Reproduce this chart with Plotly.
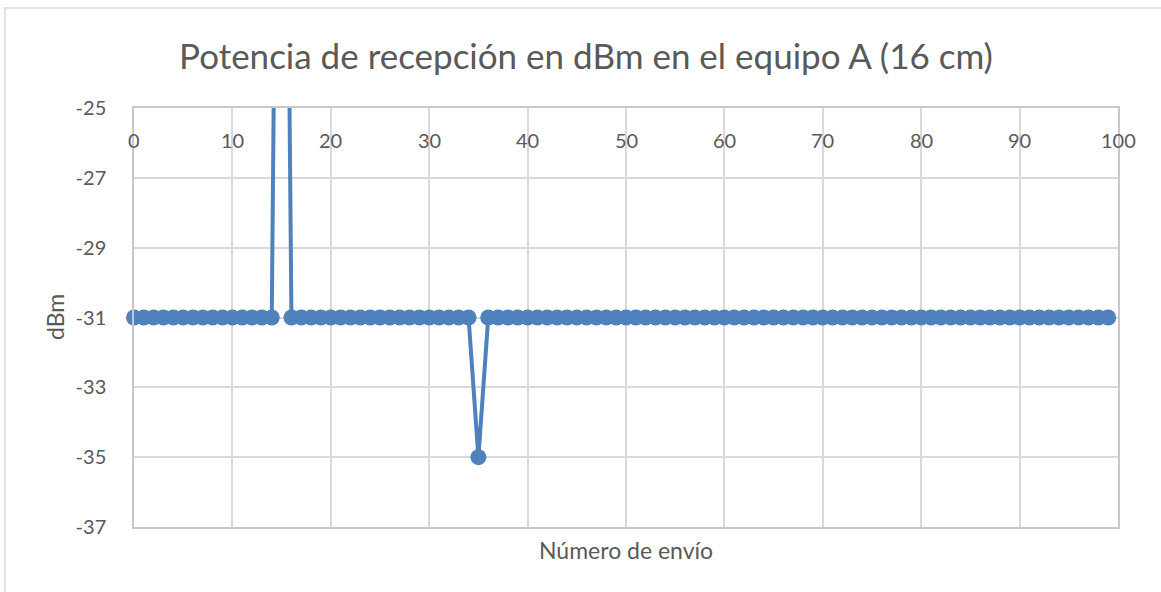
import plotly.graph_objects as go

# Data
envio = list(range(100))
dbm = [-31] * 100
dbm[15] = 0      # off-scale spike (above -25, estimated)
dbm[35] = -35

title_text = "Potencia de recepción en dBm en el equipo A (16 cm)"
x_title = "Número de envío"
y_title = "dBm"
x_ticks = list(range(0, 101, 10))
y_ticks = list(range(-37, -24, 2))

W, H = 1161, 592
L, R, T, B = 134, 43, 108, 65
PW, PH = W - L - R, H - T - B

def px_x(p):
    return (p - L) / PW

def px_y(p):
    return 1 - (p - T) / PH

color = "#4F81BD"
font_fam = "Lato, 'Open Sans', sans-serif"
grey_text = "#595959"

fig = go.Figure()
fig.add_trace(go.Scatter(
    x=envio, y=dbm, mode="lines",
    line=dict(color=color, width=4),
    hoverinfo="skip", showlegend=False,
))
vis = [v if -37 <= v <= -25 else None for v in dbm]
fig.add_trace(go.Scatter(
    x=envio, y=vis, mode="markers",
    marker=dict(color=color, size=16),
    cliponaxis=False, showlegend=False,
))

fig.update_layout(
    width=W, height=H,
    margin=dict(l=L, r=R, t=T, b=B),
    paper_bgcolor="white", plot_bgcolor="white",
    font=dict(family=font_fam, color=grey_text, size=20),
    title=dict(text=title_text, x=586 / W, xref="container", xanchor="center",
               y=1 - 57 / H, yref="container", yanchor="middle",
               font=dict(size=35, color=grey_text, family=font_fam)),
    showlegend=False,
)
fig.update_xaxes(
    range=[0, 100], tickvals=x_ticks, side="top", showticklabels=False,
    showgrid=True, gridcolor="#D9D9D9", gridwidth=1.5,
    showline=True, linecolor="#C8C8C8", linewidth=1.5, mirror=True,
    zeroline=False, ticks="",
)
fig.update_yaxes(
    range=[-37, -25], tickvals=y_ticks, ticktext=[str(v) for v in y_ticks],
    showgrid=True, gridcolor="#D9D9D9", gridwidth=1.5,
    showline=True, linecolor="#C8C8C8", linewidth=1.5, mirror=True,
    zeroline=False, ticks="", ticklabelstandoff=22,
    tickfont=dict(size=20, color=grey_text),
)
# x tick labels, drawn just below the top axis line (inside the plot area)
for v in x_ticks:
    fig.add_annotation(
        text=str(v), xref="x", yref="paper", x=v, y=px_y(140),
        xanchor="center", yanchor="middle", showarrow=False,
        font=dict(size=20, color=grey_text),
    )
fig.add_annotation(
    text=x_title, xref="paper", yref="paper",
    x=px_x(626), y=px_y(550), xanchor="center", yanchor="middle",
    showarrow=False, font=dict(size=23, color=grey_text),
)
fig.add_annotation(
    text=y_title, xref="paper", yref="paper", textangle=-90,
    x=px_x(55), y=px_y(317), xanchor="center", yanchor="middle",
    showarrow=False, font=dict(size=23, color=grey_text),
)
fig.add_shape(
    type="rect", xref="paper", yref="paper",
    x0=px_x(5), y0=px_y(H + 20), x1=px_x(W + 20), y1=px_y(8),
    line=dict(color="#D9D9D9", width=1.5), layer="below",
)
fig.write_html("out.html", config={"displayModeBar": False},
               post_script="document.body.style.margin='0';")
